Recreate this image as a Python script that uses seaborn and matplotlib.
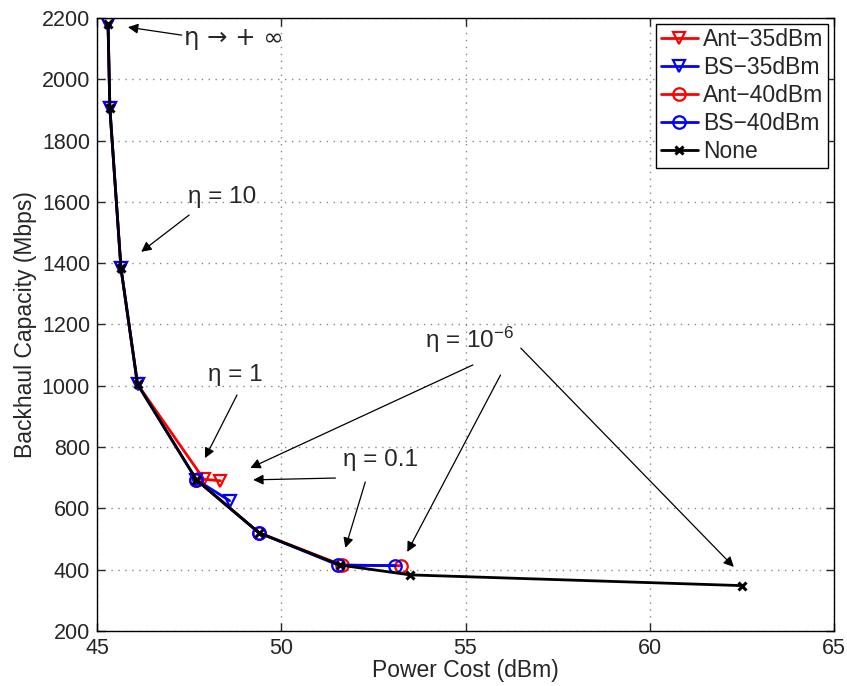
import matplotlib
matplotlib.use("Agg")
import matplotlib.pyplot as plt
import seaborn as sns
import pandas as pd

# Data
ant35_x = [45.3, 45.35, 45.65, 46.1, 47.9, 48.35]
ant35_y = [2180, 1905, 1385, 1005, 695, 690]
bs35_x = [45.3, 45.35, 45.65, 46.1, 47.7, 48.6]
bs35_y = [2180, 1905, 1385, 1005, 693, 625]
ant40_x = [47.7, 49.4, 51.65, 53.25]
ant40_y = [693, 520, 415, 413]
bs40_x = [47.7, 49.4, 51.55, 53.1]
bs40_y = [693, 520, 415, 413]
none_x = [45.3, 45.35, 45.65, 46.1, 47.7, 49.4, 51.6, 53.5, 62.5]
none_y = [2180, 1905, 1385, 1005, 693, 520, 415, 383, 348]

series_names = ["Ant\u221235dBm", "BS\u221235dBm", "Ant\u221240dBm", "BS\u221240dBm", "None"]
xticks = [45, 50, 55, 60, 65]
yticks = [200, 400, 600, 800, 1000, 1200, 1400, 1600, 1800, 2000, 2200]

sns.set_style("ticks")
plt.rcParams['font.family'] = ['Liberation Sans', 'DejaVu Sans']
plt.rcParams['mathtext.fontset'] = 'custom'
plt.rcParams['mathtext.rm'] = 'Liberation Sans'
plt.rcParams['mathtext.it'] = 'Liberation Sans'

fig = plt.figure(figsize=(8.47, 6.86), dpi=100)
ax = fig.add_axes([0.1145, 0.0802, 0.8702, 0.8936])

styles = [
    (ant35_x, ant35_y, "red", "v", 9, {"markerfacecolor": "none", "markeredgewidth": 1.6}),
    (bs35_x, bs35_y, "blue", "v", 9, {"markerfacecolor": "none", "markeredgewidth": 1.6}),
    (ant40_x, ant40_y, "red", "o", 9, {"markerfacecolor": "none", "markeredgewidth": 1.6}),
    (bs40_x, bs40_y, "blue", "o", 9, {"markerfacecolor": "none", "markeredgewidth": 1.6}),
    (none_x, none_y, "black", "x", 6, {"markeredgewidth": 2.2}),
]

for name, (xs, ys, col, mk, ms, kw) in zip(series_names, styles):
    df = pd.DataFrame({"x": xs, "y": ys})
    sns.lineplot(data=df, x="x", y="y", sort=False, estimator=None, ax=ax,
                 color=col, linewidth=2.0, marker=mk, markersize=ms,
                 markeredgecolor=col, label=name, **kw)

ax.set_xlim(45, 65)
ax.set_ylim(200, 2200)
ax.set_xticks(xticks)
ax.set_yticks(yticks)
ax.tick_params(direction="in", length=6, top=True, right=True, labelsize=15.5, width=1, pad=5)
for s in ax.spines.values():
    s.set_linewidth(1.0)
    s.set_color("black")
ax.grid(True, linestyle=(0, (1, 4)), color="#888888", linewidth=1.0)
ax.set_xlabel("Power Cost (dBm)", fontsize=16.5, labelpad=0)
ax.set_ylabel("Backhaul Capacity (Mbps)", fontsize=16.5, labelpad=3)

leg = ax.legend(loc="upper right", fontsize=16.5, frameon=True, fancybox=False,
                edgecolor="black", framealpha=1, handlelength=1.6,
                borderaxespad=0.25, labelspacing=0.22, handletextpad=0.25, borderpad=0.2)
leg.get_frame().set_linewidth(1.0)

ap = dict(arrowstyle="-|>", color="black", lw=0.9, mutation_scale=15,
          shrinkA=0, shrinkB=0)
fs = 17.5
# eta -> +inf
ax.annotate("", xy=(45.84, 2170), xytext=(47.3, 2144), arrowprops=ap)
ax.text(47.35, 2135, "\u03b7 \u2192 + \u221e", fontsize=fs, va="center", ha="left",
        family=["DejaVu Sans"])
# eta = 10
ax.text(48.4, 1615, "\u03b7 = 10", fontsize=fs, va="center", ha="center")
ax.annotate("", xy=(46.2, 1437), xytext=(47.5, 1557), arrowprops=ap)
# eta = 1
ax.text(48.75, 1035, "\u03b7 = 1", fontsize=fs, va="center", ha="center")
ax.annotate("", xy=(47.93, 764), xytext=(48.8, 970), arrowprops=ap)
# eta = 1e-6
ax.text(55.1, 1150, "\u03b7 = 10$^{\\mathregular{\u22126}}$", fontsize=fs, va="center", ha="center")
ax.annotate("", xy=(49.16, 732), xytext=(55.2, 1068), arrowprops=ap)
ax.annotate("", xy=(53.42, 458), xytext=(55.95, 1035), arrowprops=ap)
ax.annotate("", xy=(62.28, 409), xytext=(56.5, 1123), arrowprops=ap)
# eta = 0.1
ax.text(52.7, 758, "\u03b7 = 0.1", fontsize=fs, va="center", ha="center")
ax.annotate("", xy=(49.24, 693), xytext=(51.47, 699), arrowprops=ap)
ax.annotate("", xy=(51.74, 471), xytext=(52.28, 686), arrowprops=ap)

fig.savefig("out.png", dpi=100)
